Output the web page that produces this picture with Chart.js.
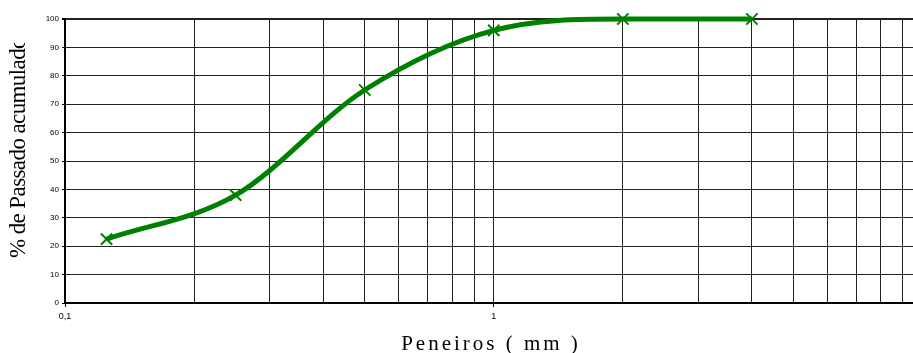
<!DOCTYPE html>
<html>
<head>
<meta charset="utf-8">
<script src="https://cdn.jsdelivr.net/npm/chart.js@4.4.0/dist/chart.umd.min.js"></script>
<style>
  html, body { margin: 0; padding: 0; background: #fff; overflow: hidden; }
</style>
</head>
<body>
<canvas id="granulo" width="913" height="353"></canvas>
<script>
// sieve openings (mm) and % passing
const peneiros = [0.125, 0.25, 0.5, 1, 2, 4];
const passado = [22.5, 38, 75, 96, 100, 100];
const yTicks = [0, 10, 20, 30, 40, 50, 60, 70, 80, 90, 100];
const xLabels = { 0.1: "0,1", 1: "1" };

const xTitle = "Peneiros ( mm )";
const yTitle = "% de Passado acumulado";

function isNice(v) {
  const p = Math.pow(10, Math.floor(Math.log10(v) + 1e-9));
  const s = v / p;
  return Math.abs(s - Math.round(s)) < 1e-6;
}
function labelFor(v) {
  for (const k in xLabels) {
    if (Math.abs(parseFloat(k) - v) < 1e-9) return xLabels[k];
  }
  return "";
}

// titles drawn by hand (excel-like look)
const titlesPlugin = {
  id: "titles",
  afterDraw(chart) {
    const ctx = chart.ctx;
    ctx.save();
    ctx.fillStyle = "#000";
    ctx.font = "21px 'Liberation Serif'";
    ctx.letterSpacing = "3px";
    ctx.textAlign = "center";
    ctx.textBaseline = "alphabetic";
    ctx.fillText(xTitle, 491, 350);
    ctx.restore();

    // y title is cut at the top like in the original sheet
    ctx.save();
    ctx.beginPath();
    ctx.rect(0, 43, 60, 310);
    ctx.clip();
    ctx.translate(25, 258);
    ctx.rotate(-Math.PI / 2);
    ctx.fillStyle = "#000";
    ctx.font = "23px 'Liberation Serif'";
    ctx.letterSpacing = "-0.6px";
    ctx.textAlign = "left";
    ctx.textBaseline = "alphabetic";
    ctx.fillText(yTitle, 0, 0);
    ctx.restore();
  },
};

new Chart(document.getElementById("granulo"), {
  type: "line",
  data: {
    datasets: [
      {
        data: peneiros.map((x, i) => ({ x: x, y: passado[i] })),
        borderColor: "#008000",
        borderWidth: 5,
        cubicInterpolationMode: "monotone",
        pointStyle: "crossRot",
        pointRadius: 8,
        pointBorderWidth: 2,
        pointBorderColor: "#008000",
        pointBackgroundColor: "#008000",
        clip: false,
        fill: false,
      },
    ],
  },
  options: {
    responsive: false,
    animation: false,
    events: [],
    layout: { autoPadding: false, padding: { top: 19, left: 0, right: 0, bottom: 0 } },
    plugins: { legend: { display: false }, tooltip: { enabled: false } },
    scales: {
      x: {
        type: "logarithmic",
        min: 0.1,
        max: 9.5,
        afterBuildTicks(scale) {
          scale.ticks = scale.ticks.filter((t) => isNice(t.value));
        },
        afterFit(scale) {
          scale.height = 50;
          scale.paddingRight = 0;
        },
        border: { display: true, color: "#000", width: 2 },
        grid: {
          color: "#222",
          lineWidth: 1,
          tickLength: 4,
          tickColor: (c) => (c.tick && labelFor(c.tick.value) ? "#000" : "rgba(0,0,0,0)"),
        },
        ticks: {
          autoSkip: false,
          maxRotation: 0,
          padding: 4,
          color: "#000",
          font: { family: "'Liberation Sans'", size: 9 },
          callback: (v) => labelFor(v),
        },
      },
      y: {
        min: 0,
        max: 100,
        afterBuildTicks(scale) {
          scale.ticks = yTicks.map((v) => ({ value: v }));
        },
        afterFit(scale) {
          scale.width = 65;
        },
        border: { display: true, color: "#000", width: 2 },
        grid: {
          color: "#222",
          lineWidth: (c) => (c.tick && c.tick.value === 100 ? 2 : 1),
          tickLength: 3,
          tickColor: "#000",
        },
        ticks: {
          padding: 3,
          color: "#000",
          font: { family: "'Liberation Sans'", size: 8 },
        },
      },
    },
  },
  plugins: [titlesPlugin],
});
</script>
</body>
</html>
